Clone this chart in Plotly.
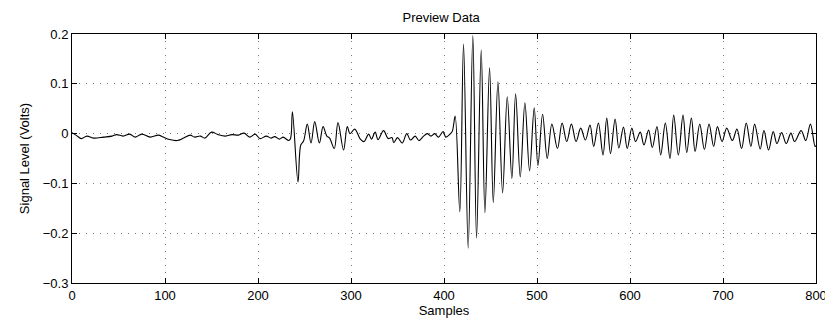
import plotly.graph_objects as go

# Samples / signal level (Volts) (local extrema)
samples = [
    0, 5, 10, 16, 23, 34, 43, 48, 55, 62, 68, 75, 84, 93, 98, 105, 113, 120, 127, 132,
    138, 143, 150, 157, 165, 172, 179, 185, 191, 197, 202, 209, 214, 218, 223, 227, 233, 235,
    237, 243, 246, 249, 253, 257, 261, 266, 270, 274, 277, 282, 286, 292, 296, 299, 304, 310,
    314, 319, 322, 326, 329, 335, 340, 344, 346, 350, 355, 360, 364, 369, 373, 378, 382, 386,
    390, 394, 399, 402, 407, 409, 412, 417, 421, 426, 431, 435, 440, 444, 449, 453, 458, 463,
    468, 473, 477, 482, 487, 492, 497, 501, 506, 511, 516, 522, 527, 532, 537, 542, 547, 552,
    557, 561, 566, 571, 575, 579, 584, 588, 593, 597, 602, 606, 611, 615, 620, 624, 629, 633,
    638, 643, 647, 652, 657, 661, 666, 670, 675, 680, 685, 690, 694, 699, 704, 710, 715, 720,
    725, 730, 734, 740, 744, 749, 754, 758, 763, 768, 773, 777, 784, 789, 794, 799, 800,
]
volts = [
    0.002, -0.004, -0.010, -0.005, -0.009, -0.007, -0.005, -0.002, -0.005, -0.001, -0.007,
    -0.001, -0.007, -0.003, -0.007, -0.012, -0.014, -0.009, -0.003, -0.007, -0.005, -0.009,
    0.003, -0.002, -0.005, -0.002, -0.003, 0.001, -0.007, -0.001, -0.010, -0.005, -0.009,
    -0.006, -0.011, -0.007, -0.014, -0.010,
    0.044, -0.097, -0.023, -0.015, 0.019, -0.019, 0.024, -0.019, 0.014, -0.005, -0.009,
    -0.030, 0.022, -0.033, 0.014, 0.000, 0.009, -0.011, -0.016, -0.001, -0.011, 0.003,
    -0.012, 0.006, -0.010, -0.008, -0.018, -0.008, -0.019, 0.000, -0.013, -0.005, -0.014,
    -0.005, 0.000, -0.005, 0.000, -0.007, 0.004, -0.007, 0.000, 0.005, 0.035,
    -0.157, 0.180, -0.230, 0.197, -0.210, 0.168, -0.159, 0.132, -0.139, 0.104, -0.119,
    0.074, -0.090, 0.080, -0.087, 0.062, -0.075, 0.052, -0.064, 0.039, -0.050, 0.019,
    -0.030, 0.021, -0.016, 0.019, -0.016, 0.011, -0.013, 0.017, -0.026, 0.021, -0.043,
    0.031, -0.040, 0.029, -0.029, 0.013, -0.030, 0.011, -0.016, 0.003, -0.023, 0.007,
    -0.028, 0.014, -0.043, 0.021, -0.050, 0.037, -0.043, 0.037, -0.038, 0.031, -0.036,
    0.019, -0.032, 0.019, -0.026, 0.014, -0.016, 0.011, -0.014, 0.009, -0.030, 0.021,
    -0.026, 0.019, -0.031, 0.006, -0.033, 0.004, -0.020, 0.002, -0.020, 0.001, -0.016,
    0.006, -0.014, 0.019, -0.026, -0.024,
]

x_ticks = [0, 100, 200, 300, 400, 500, 600, 700, 800]
y_ticks = [0.2, 0.1, 0, -0.1, -0.2, -0.3]

fig = go.Figure()
fig.add_trace(go.Scatter(
    x=samples, y=volts, mode='lines',
    line=dict(color='black', width=1.1, shape='spline', smoothing=1),
    showlegend=False, hoverinfo='skip'
))

axis_style = dict(
    showline=True, mirror='ticks', linecolor='black', linewidth=1,
    ticks='inside', ticklen=5, tickcolor='black',
    showgrid=True, gridcolor='#777', griddash='1px,6px', gridwidth=1,
    zeroline=False, automargin=False, ticklabeloverflow='allow',
    tickfont=dict(size=13, color='black'),
)

# page adds an 8px body margin; size the figure so nothing overflows the window
fig.update_layout(
    width=825, height=314,
    margin=dict(l=64, r=17, t=26, b=39),
    paper_bgcolor='white', plot_bgcolor='white',
    font=dict(family='Liberation Sans, Arial, sans-serif', size=13, color='black'),
    title=dict(text='Preview Data', x=0.525, xanchor='center', y=0.97, yanchor='middle',
               font=dict(size=13)),
    xaxis=dict(range=[0, 800], tickvals=x_ticks,
               title=dict(text='Samples', standoff=2, font=dict(size=13)), **axis_style),
    yaxis=dict(range=[-0.3, 0.2], tickvals=y_ticks, tickformat='.1~f',
               title=dict(text='Signal Level (Volts)', standoff=10, font=dict(size=13)),
               **axis_style),
)

fig.write_html("out.html")
